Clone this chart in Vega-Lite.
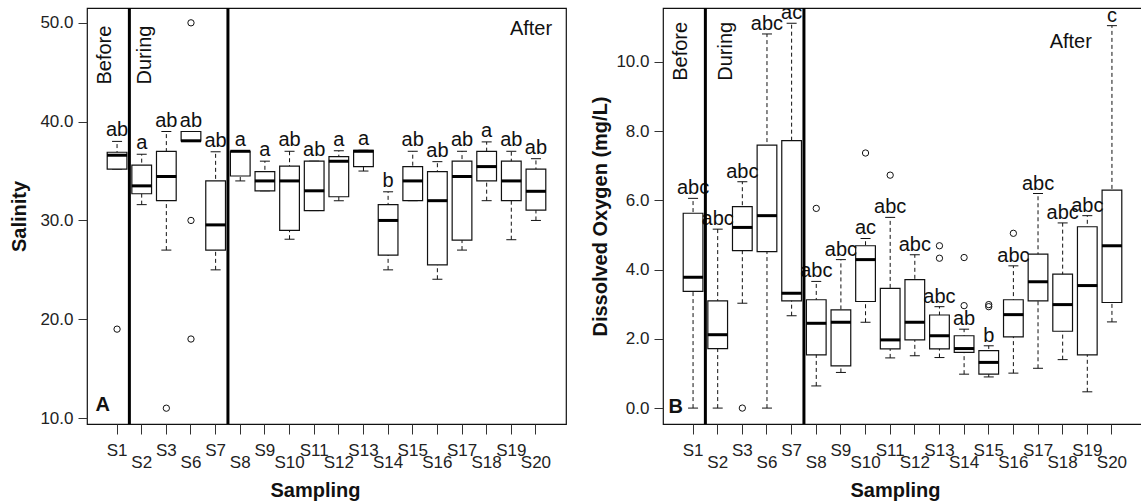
{
  "$schema": "https://vega.github.io/schema/vega-lite/v6.json",
  "background": "white",
  "padding": {"left": 8, "top": 2, "right": 0, "bottom": 0},
  "spacing": 97,
  "bounds": "flush",
  "config": {
    "font": "Liberation Sans",
    "view": {"stroke": "#111", "strokeWidth": 1.2},
    "axis": {
      "domain": false,
      "grid": false,
      "tickColor": "#333",
      "labelColor": "#222",
      "labelFontSize": 17,
      "labelFont": "Liberation Sans",
      "titleFont": "Liberation Sans",
      "titleFontSize": 20,
      "titleFontWeight": "bold",
      "titleColor": "#111"
    },
    "text": {"font": "Liberation Sans", "color": "#111"}
  },
  "datasets": {
    "one": [{"k": 1}],
    "sal": [
      {"site": "S1", "lo": 35.2, "q1": 35.2, "med": 36.6, "q3": 36.9, "hi": 38.0, "letter": "ab"},
      {"site": "S2", "lo": 31.6, "q1": 32.7, "med": 33.5, "q3": 35.6, "hi": 36.7, "letter": "a"},
      {"site": "S3", "lo": 27.0, "q1": 32.0, "med": 34.45, "q3": 37.0, "hi": 39.0, "letter": "ab"},
      {"site": "S6", "lo": 38.06, "q1": 38.06, "med": 38.06, "q3": 39.0, "hi": 39.0, "letter": "ab"},
      {"site": "S7", "lo": 25.0, "q1": 27.0, "med": 29.55, "q3": 34.0, "hi": 36.95, "letter": "ab"},
      {"site": "S8", "lo": 34.0, "q1": 34.5, "med": 37.0, "q3": 37.0, "hi": 37.0, "letter": "a"},
      {"site": "S9", "lo": 33.0, "q1": 33.0, "med": 34.0, "q3": 34.95, "hi": 36.0, "letter": "a"},
      {"site": "S10", "lo": 28.1, "q1": 29.0, "med": 34.0, "q3": 35.5, "hi": 37.0, "letter": "ab"},
      {"site": "S11", "lo": 31.0, "q1": 31.0, "med": 33.0, "q3": 36.0, "hi": 36.0, "letter": "ab"},
      {"site": "S12", "lo": 32.0, "q1": 32.4, "med": 36.0, "q3": 36.45, "hi": 37.05, "letter": "a"},
      {"site": "S13", "lo": 35.0, "q1": 35.45, "med": 37.0, "q3": 37.1, "hi": 37.1, "letter": "a"},
      {"site": "S14", "lo": 25.0, "q1": 26.5, "med": 30.0, "q3": 31.6, "hi": 32.9, "letter": "b"},
      {"site": "S15", "lo": 32.0, "q1": 32.0, "med": 34.0, "q3": 35.45, "hi": 37.0, "letter": "ab"},
      {"site": "S16", "lo": 24.05, "q1": 25.5, "med": 32.0, "q3": 34.95, "hi": 35.95, "letter": "ab"},
      {"site": "S17", "lo": 27.0, "q1": 28.0, "med": 34.45, "q3": 36.0, "hi": 37.0, "letter": "ab"},
      {"site": "S18", "lo": 32.0, "q1": 34.0, "med": 35.45, "q3": 37.0, "hi": 37.95, "letter": "a"},
      {"site": "S19", "lo": 28.05, "q1": 32.0, "med": 34.0, "q3": 36.0, "hi": 37.0, "letter": "ab"},
      {"site": "S20", "lo": 30.0, "q1": 31.05, "med": 32.95, "q3": 35.2, "hi": 36.25, "letter": "ab"}
    ],
    "sal_out": [
      {"site": "S1", "value": 19.0},
      {"site": "S3", "value": 11.0},
      {"site": "S6", "value": 50.0},
      {"site": "S6", "value": 30.0},
      {"site": "S6", "value": 18.0}
    ],
    "do": [
      {"site": "S1", "lo": 0.0, "q1": 3.37, "med": 3.78, "q3": 5.63, "hi": 6.06, "letter": "abc"},
      {"site": "S2", "lo": 0.0, "q1": 1.72, "med": 2.12, "q3": 3.10, "hi": 5.17, "letter": "abc"},
      {"site": "S3", "lo": 3.03, "q1": 4.55, "med": 5.22, "q3": 5.82, "hi": 6.54, "letter": "abc"},
      {"site": "S6", "lo": 0.0, "q1": 4.52, "med": 5.56, "q3": 7.60, "hi": 10.81, "letter": "abc"},
      {"site": "S7", "lo": 2.67, "q1": 3.10, "med": 3.32, "q3": 7.73, "hi": 11.12, "letter": "ac"},
      {"site": "S8", "lo": 0.64, "q1": 1.54, "med": 2.45, "q3": 3.13, "hi": 3.66, "letter": "abc"},
      {"site": "S9", "lo": 1.03, "q1": 1.22, "med": 2.48, "q3": 2.84, "hi": 4.29, "letter": "abc"},
      {"site": "S10", "lo": 2.48, "q1": 3.08, "med": 4.29, "q3": 4.69, "hi": 4.90, "letter": "ac"},
      {"site": "S11", "lo": 1.45, "q1": 1.71, "med": 1.97, "q3": 3.46, "hi": 5.51, "letter": "abc"},
      {"site": "S12", "lo": 1.51, "q1": 1.97, "med": 2.48, "q3": 3.71, "hi": 4.43, "letter": "abc"},
      {"site": "S13", "lo": 1.46, "q1": 1.71, "med": 2.09, "q3": 2.69, "hi": 2.93, "letter": "abc"},
      {"site": "S14", "lo": 0.98, "q1": 1.61, "med": 1.72, "q3": 2.09, "hi": 2.28, "letter": "ab"},
      {"site": "S15", "lo": 0.90, "q1": 0.98, "med": 1.32, "q3": 1.66, "hi": 1.80, "letter": "b"},
      {"site": "S16", "lo": 1.01, "q1": 2.06, "med": 2.70, "q3": 3.13, "hi": 4.11, "letter": "abc"},
      {"site": "S17", "lo": 1.15, "q1": 3.10, "med": 3.65, "q3": 4.45, "hi": 6.20, "letter": "abc"},
      {"site": "S18", "lo": 1.40, "q1": 2.22, "med": 2.99, "q3": 3.87, "hi": 5.35, "letter": "abc"},
      {"site": "S19", "lo": 0.47, "q1": 1.54, "med": 3.54, "q3": 5.24, "hi": 5.56, "letter": "abc"},
      {"site": "S20", "lo": 2.49, "q1": 3.05, "med": 4.69, "q3": 6.30, "hi": 11.05, "letter": "c"}
    ],
    "do_out": [
      {"site": "S3", "value": 0.0},
      {"site": "S8", "value": 5.77},
      {"site": "S10", "value": 7.37},
      {"site": "S11", "value": 6.73},
      {"site": "S13", "value": 4.69},
      {"site": "S13", "value": 4.33},
      {"site": "S14", "value": 4.35},
      {"site": "S14", "value": 2.96},
      {"site": "S15", "value": 2.93},
      {"site": "S15", "value": 2.99},
      {"site": "S16", "value": 5.05}
    ]
  },
  "hconcat": [
    {
      "width": 479,
      "height": 416,
      "data": {"name": "sal"},
      "layer": [
        {
          "mark": {"type": "rule", "color": "#111", "strokeWidth": 1, "strokeDash": [4, 3], "opacity": 1},
          "encoding": {
            "x": {
              "field": "site", "type": "nominal",
              "scale": {"domain": ["S1","S2","S3","S6","S7","S8","S9","S10","S11","S12","S13","S14","S15","S16","S17","S18","S19","S20"], "paddingInner": 0, "paddingOuter": 0.72},
              "axis": {
                "title": "Sampling", "labelAngle": 0, "tickSize": 10,
                "labelPadding": {"condition": {"test": "indexof(['S2','S6','S8','S10','S12','S14','S16','S18','S20'], datum.value) >= 0", "value": 20}, "value": 8},
                "titleX": 228, "titleY": 66, "titleBaseline": "middle"
              }
            },
            "y": {
              "field": "lo", "type": "quantitative",
              "scale": {"domain": [9.4, 51.5], "nice": false, "zero": false},
              "axis": {"title": "Salinity", "values": [10, 20, 30, 40, 50], "format": ".1f", "tickSize": 9, "labelPadding": 5, "titleX": -68, "titleBaseline": "middle"}
            },
            "y2": {"field": "hi"}
          }
        },
        {
          "mark": {"type": "tick", "color": "#111", "size": 10, "thickness": 1, "opacity": 1},
          "encoding": {"x": {"field": "site", "type": "nominal"}, "y": {"field": "hi", "type": "quantitative"}}
        },
        {
          "mark": {"type": "tick", "color": "#111", "size": 10, "thickness": 1, "opacity": 1},
          "encoding": {"x": {"field": "site", "type": "nominal"}, "y": {"field": "lo", "type": "quantitative"}}
        },
        {
          "mark": {"type": "bar", "fill": "white", "stroke": "#111", "strokeWidth": 1.2, "width": {"band": 0.8}, "opacity": 1},
          "encoding": {"x": {"field": "site", "type": "nominal"}, "y": {"field": "q1", "type": "quantitative"}, "y2": {"field": "q3"}}
        },
        {
          "mark": {"type": "tick", "color": "#000", "size": 20, "thickness": 3, "opacity": 1},
          "encoding": {"x": {"field": "site", "type": "nominal"}, "y": {"field": "med", "type": "quantitative"}}
        },
        {
          "data": {"name": "sal_out"},
          "mark": {"type": "point", "shape": "circle", "filled": false, "stroke": "#111", "strokeWidth": 1, "size": 40, "opacity": 1},
          "encoding": {"x": {"field": "site", "type": "nominal"}, "y": {"field": "value", "type": "quantitative"}}
        },
        {
          "mark": {"type": "text", "fontSize": 20, "baseline": "alphabetic", "dy": -5},
          "encoding": {"x": {"field": "site", "type": "nominal"}, "y": {"field": "hi", "type": "quantitative"}, "text": {"field": "letter"}}
        },
        {
          "data": {"name": "one"},
          "mark": {"type": "rule", "color": "#000", "strokeWidth": 3, "opacity": 1},
          "encoding": {"x": {"datum": "S2", "type": "nominal", "bandPosition": 0}}
        },
        {
          "data": {"name": "one"},
          "mark": {"type": "rule", "color": "#000", "strokeWidth": 3, "opacity": 1},
          "encoding": {"x": {"datum": "S8", "type": "nominal", "bandPosition": 0}}
        },
        {
          "data": {"name": "one"},
          "mark": {"type": "text", "text": "Before", "angle": 270, "align": "right", "baseline": "middle", "fontSize": 20},
          "encoding": {"x": {"datum": "S1", "type": "nominal", "bandPosition": 0}, "y": {"datum": 49.72, "type": "quantitative"}}
        },
        {
          "data": {"name": "one"},
          "mark": {"type": "text", "text": "During", "angle": 270, "align": "right", "baseline": "middle", "fontSize": 20},
          "encoding": {"x": {"datum": "S2", "type": "nominal", "bandPosition": 0.65}, "y": {"datum": 49.72, "type": "quantitative"}}
        },
        {
          "data": {"name": "one"},
          "mark": {"type": "text", "text": "After", "align": "center", "baseline": "middle", "fontSize": 20},
          "encoding": {"x": {"datum": "S20", "type": "nominal", "bandPosition": 0.3}, "y": {"datum": 49.41, "type": "quantitative"}}
        },
        {
          "data": {"name": "one"},
          "mark": {"type": "text", "text": "A", "align": "center", "baseline": "middle", "fontSize": 20, "fontWeight": "bold", "dx": -2},
          "encoding": {"x": {"datum": "S1", "type": "nominal", "bandPosition": 0}, "y": {"datum": 11.32, "type": "quantitative"}}
        }
      ]
    },
    {
      "width": 479,
      "height": 416,
      "data": {"name": "do"},
      "layer": [
        {
          "mark": {"type": "rule", "color": "#111", "strokeWidth": 1, "strokeDash": [4, 3], "opacity": 1},
          "encoding": {
            "x": {
              "field": "site", "type": "nominal",
              "scale": {"domain": ["S1","S2","S3","S6","S7","S8","S9","S10","S11","S12","S13","S14","S15","S16","S17","S18","S19","S20"], "paddingInner": 0, "paddingOuter": 0.72},
              "axis": {
                "title": "Sampling", "labelAngle": 0, "tickSize": 10,
                "labelPadding": {"condition": {"test": "indexof(['S2','S6','S8','S10','S12','S14','S16','S18','S20'], datum.value) >= 0", "value": 20}, "value": 8},
                "titleX": 232, "titleY": 66, "titleBaseline": "middle"
              }
            },
            "y": {
              "field": "lo", "type": "quantitative",
              "scale": {"domain": [-0.46, 11.56], "nice": false, "zero": false},
              "axis": {"title": "Dissolved Oxygen (mg/L)", "values": [0, 2, 4, 6, 8, 10], "format": ".1f", "tickSize": 9, "labelPadding": 5, "titleX": -63, "titleBaseline": "middle"}
            },
            "y2": {"field": "hi"}
          }
        },
        {
          "mark": {"type": "tick", "color": "#111", "size": 10, "thickness": 1, "opacity": 1},
          "encoding": {"x": {"field": "site", "type": "nominal"}, "y": {"field": "hi", "type": "quantitative"}}
        },
        {
          "mark": {"type": "tick", "color": "#111", "size": 10, "thickness": 1, "opacity": 1},
          "encoding": {"x": {"field": "site", "type": "nominal"}, "y": {"field": "lo", "type": "quantitative"}}
        },
        {
          "mark": {"type": "bar", "fill": "white", "stroke": "#111", "strokeWidth": 1.2, "width": {"band": 0.8}, "opacity": 1},
          "encoding": {"x": {"field": "site", "type": "nominal"}, "y": {"field": "q1", "type": "quantitative"}, "y2": {"field": "q3"}}
        },
        {
          "mark": {"type": "tick", "color": "#000", "size": 20, "thickness": 3, "opacity": 1},
          "encoding": {"x": {"field": "site", "type": "nominal"}, "y": {"field": "med", "type": "quantitative"}}
        },
        {
          "data": {"name": "do_out"},
          "mark": {"type": "point", "shape": "circle", "filled": false, "stroke": "#111", "strokeWidth": 1, "size": 40, "opacity": 1},
          "encoding": {"x": {"field": "site", "type": "nominal"}, "y": {"field": "value", "type": "quantitative"}}
        },
        {
          "mark": {"type": "text", "fontSize": 20, "baseline": "alphabetic", "dy": -4},
          "encoding": {"x": {"field": "site", "type": "nominal"}, "y": {"field": "hi", "type": "quantitative"}, "text": {"field": "letter"}}
        },
        {
          "data": {"name": "one"},
          "mark": {"type": "rule", "color": "#000", "strokeWidth": 3, "opacity": 1},
          "encoding": {"x": {"datum": "S2", "type": "nominal", "bandPosition": 0}}
        },
        {
          "data": {"name": "one"},
          "mark": {"type": "rule", "color": "#000", "strokeWidth": 3, "opacity": 1},
          "encoding": {"x": {"datum": "S8", "type": "nominal", "bandPosition": 0}}
        },
        {
          "data": {"name": "one"},
          "mark": {"type": "text", "text": "Before", "angle": 270, "align": "right", "baseline": "middle", "fontSize": 20},
          "encoding": {"x": {"datum": "S1", "type": "nominal", "bandPosition": 0}, "y": {"datum": 11.16, "type": "quantitative"}}
        },
        {
          "data": {"name": "one"},
          "mark": {"type": "text", "text": "During", "angle": 270, "align": "right", "baseline": "middle", "fontSize": 20},
          "encoding": {"x": {"datum": "S2", "type": "nominal", "bandPosition": 0.85}, "y": {"datum": 11.16, "type": "quantitative"}}
        },
        {
          "data": {"name": "one"},
          "mark": {"type": "text", "text": "After", "align": "center", "baseline": "middle", "fontSize": 20},
          "encoding": {"x": {"datum": "S18", "type": "nominal", "bandPosition": 0.83}, "y": {"datum": 10.58, "type": "quantitative"}}
        },
        {
          "data": {"name": "one"},
          "mark": {"type": "text", "text": "B", "align": "center", "baseline": "middle", "fontSize": 20, "fontWeight": "bold", "dx": -5},
          "encoding": {"x": {"datum": "S1", "type": "nominal", "bandPosition": 0}, "y": {"datum": 0.02, "type": "quantitative"}}
        }
      ]
    }
  ]
}
